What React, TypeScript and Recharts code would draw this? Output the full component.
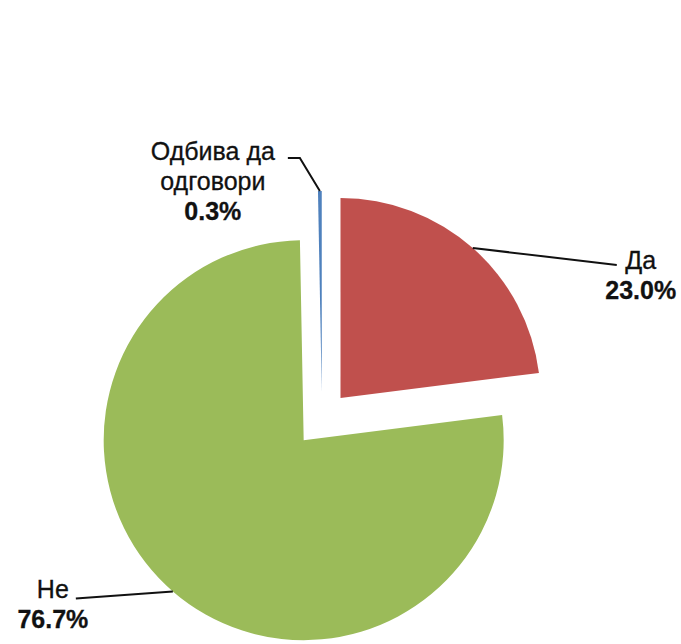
import { PieChart, Pie, Cell } from 'recharts';

// data (clockwise from 12 o'clock)
const categories = ['Да', 'Не', 'Одбива да одговори'];
const labelLines = [['Да'], ['Не'], ['Одбива да', 'одговори']];
const values = [23.0, 76.7, 0.3];
const colors = ['#C0504D', '#9BBB59', '#4F81BD'];

const data = categories.map((name, i) => ({ name, value: values[i] }));

const CX = 322;
const CY = 419;
const R = 200;
const EXPLODE = 28;
const RAD = Math.PI / 180;

// label line path + text placement, relative to the point on the arc
const labelLayout = [
  { path: [[0, 0], [144, 17]], tx: 168, ty: 21 },
  { path: [[0, 0], [-97, 7]], tx: -120, ty: 7 },
  { path: [[0, 0], [-20, -33], [-32, -33]], tx: -107, ty: -31 },
];

const total = values.reduce((a, b) => a + b, 0);
const midAngles = values.map((v, i) => {
  const before = values.slice(0, i).reduce((a, b) => a + b, 0);
  return 90 - ((before + v / 2) / total) * 360;
});

function makeLabel(slice: number) {
  return (props: any) => {
    if (props.index !== slice) return null;
    const { cx, cy, midAngle, outerRadius, percent } = props;
    const ax = cx + outerRadius * Math.cos(-midAngle * RAD);
    const ay = cy + outerRadius * Math.sin(-midAngle * RAD);
    const lay = labelLayout[slice];
    const d = lay.path.map((p, k) => `${k ? 'L' : 'M'}${ax + p[0]},${ay + p[1]}`).join(' ');
    const lines = labelLines[slice];
    return (
      <g>
        <path d={d} stroke="#111" strokeWidth={2} fill="none" />
        <text
          x={ax + lay.tx}
          y={ay + lay.ty}
          textAnchor="middle"
          fontFamily="'Liberation Sans', Arial, sans-serif"
          fontSize={25}
          fill="#111"
          stroke="#111"
          strokeWidth={0.3}
        >
          {lines.map((t, k) => (
            <tspan key={k} x={ax + lay.tx} dy={k ? 30 : 0}>{t}</tspan>
          ))}
          <tspan x={ax + lay.tx} dy={30} fontWeight="bold">
            {(percent * 100).toFixed(1)}%
          </tspan>
        </text>
      </g>
    );
  };
}

export default function App() {
  return (
    <div style={{ position: 'absolute', left: 0, top: 0, width: 681, height: 644, background: '#fff' }}>
      <PieChart width={681} height={644} margin={{ top: 0, right: 0, bottom: 0, left: 0 }}>
        {values.map((_, s) => (
          <Pie
            key={s}
            data={data}
            dataKey="value"
            nameKey="name"
            cx={CX + EXPLODE * Math.cos(-midAngles[s] * RAD)}
            cy={CY + EXPLODE * Math.sin(-midAngles[s] * RAD)}
            outerRadius={R}
            startAngle={90}
            endAngle={-270}
            stroke="none"
            labelLine={false}
            label={makeLabel(s)}
            isAnimationActive={false}
          >
            {data.map((_, i) => (
              <Cell key={i} fill={i === s ? colors[i] : 'none'} stroke="none" />
            ))}
          </Pie>
        ))}
      </PieChart>
    </div>
  );
}
